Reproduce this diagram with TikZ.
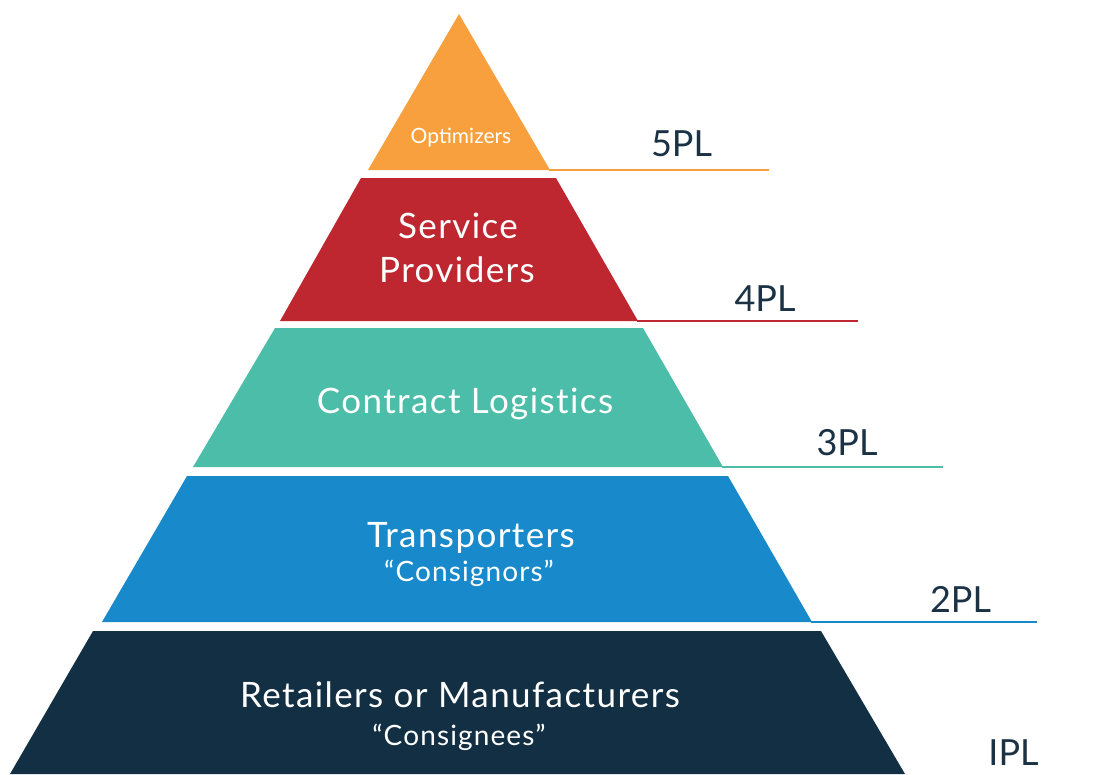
\documentclass[tikz,border=0pt]{standalone}
\usepackage{fontspec}
\setmainfont{Lato}
\newfontfamily\spacedfont[LetterSpace=4,Ligatures={NoCommon}]{Lato}
\definecolor{cOrange}{HTML}{F7A03D}
\definecolor{cRed}{HTML}{BE2630}
\definecolor{cTeal}{HTML}{4BBDA8}
\definecolor{cBlue}{HTML}{1889CA}
\definecolor{cNavy}{HTML}{132F43}
\definecolor{cText}{HTML}{1B3245}
\tikzset{
  band/.style={fill=#1, draw=none},
  leader/.style={draw=#1, line width=2.5pt},
  lab/.style={anchor=base, text=white, inner sep=0pt, font=\spacedfont\fontsize{#1}{#1}\selectfont},
  smalllab/.style={anchor=base, text=white, inner sep=0pt, font=\fontsize{#1}{#1}\selectfont},
  pl/.style={anchor=base, text=cText, inner sep=0pt, font=\fontsize{36}{36}\selectfont},
}
\begin{document}
\begin{tikzpicture}[x=1pt,y=-1pt]
\useasboundingbox (0,0) rectangle (1115,774);
% bands
\fill[band=cOrange] (459,14) -- (550,170) -- (368,170) -- cycle;
\fill[band=cRed] (361,178) -- (556,178) -- (638,321) -- (280,321) -- cycle;
\fill[band=cTeal] (275,328) -- (643,328) -- (723,467) -- (193,467) -- cycle;
\fill[band=cBlue] (187,476) -- (728,476) -- (812,622) -- (102,622) -- cycle;
\fill[band=cNavy] (93,631) -- (821,631) -- (905,774) -- (10,774) -- cycle;
% leader coordinates
\coordinate (o1) at (549,170); \coordinate (o2) at (769,170);
\coordinate (r1) at (637,321); \coordinate (r2) at (858,321);
\coordinate (t1) at (722,467); \coordinate (t2) at (943,467);
\coordinate (b1) at (811,622); \coordinate (b2) at (1037,622);
\draw[leader=cOrange] (o1) -- (o2);
\draw[leader=cRed] (r1) -- (r2);
\draw[leader=cTeal] (t1) -- (t2);
\draw[leader=cBlue] (b1) -- (b2);
% band labels
\node[smalllab=21] (opt) at (461,143) {Optimizers};
\node[lab=35] (serv) at (458,238) {Service};
\node[lab=35] (prov) at (457,282) {Providers};
\node[lab=35] (cont) at (465,413) {Contract Logistics};
\node[lab=35] (trans) at (471,547) {Transporters};
\node[lab=28] (cons1) at (469,581) {“Consignors”};
\node[lab=35] (ret) at (460,707) {Retailers or Manufacturers};
\node[lab=28] (cons2) at (459,745) {“Consignees”};
% level labels
\node[pl] (p5) at (681.5,156) {5PL};
\node[pl] (p4) at (765,311) {4PL};
\node[pl] (p3) at (847,455) {3PL};
\node[pl] (p2) at (960.5,612) {2PL};
\node[pl] (p1) at (1013.5,765) {IPL};
\end{tikzpicture}
\end{document}
